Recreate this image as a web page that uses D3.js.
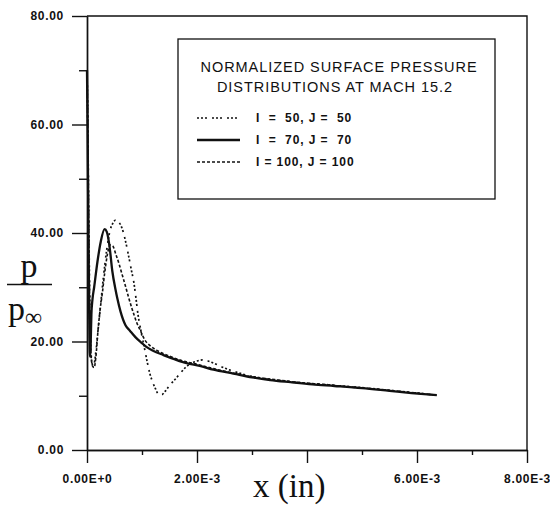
<!DOCTYPE html>
<html>
<head>
<meta charset="utf-8">
<script src="https://cdn.jsdelivr.net/npm/d3@7"></script>
<style>
  html, body { margin: 0; padding: 0; background: #fff; }
  svg { display: block; }
  .tick text { font-family: "Liberation Sans", Arial, Helvetica, sans-serif; font-weight: bold; font-size: 12px; letter-spacing: 0.7px; fill: #111; }
</style>
</head>
<body>
<svg id="chart" width="550" height="505"></svg>
<script>
// ---------------- DATA ----------------
// x in units of 1E-3 inch, y = p / p_inf
const seriesNames = ["I  =  50, J =  50", "I  =  70, J =  70", "I = 100, J = 100"];

const x_I50 = [0, 0.01, 0.02, 0.035, 0.05, 0.07, 0.09, 0.12, 0.16, 0.2, 0.25, 0.3, 0.36, 0.42, 0.47, 0.52, 0.58, 0.64, 0.7, 0.76, 0.81, 0.85, 0.89, 0.92, 0.98, 1.04, 1.1, 1.14, 1.18, 1.24, 1.3, 1.36, 1.42, 1.5, 1.6, 1.7, 1.8, 1.9, 2.0, 2.1, 2.2, 2.35, 2.5, 2.7, 2.9, 3.2, 3.6, 4.0, 4.5, 5.0, 5.5, 6.0, 6.36];
const y_I50 = [70, 64, 55, 40, 28, 19, 16, 15.5, 18, 22, 27, 32, 37, 40.5, 41.8, 42.4, 42, 40.8, 38.5, 35.6, 33, 31, 28, 25.5, 22, 19, 16, 14.2, 12.9, 11.4, 10.3, 10.2, 10.8, 11.9, 13, 14.2, 15.3, 16, 16.4, 16.6, 16.4, 15.8, 15.1, 14.4, 13.8, 13.2, 12.7, 12.3, 11.9, 11.5, 11.0, 10.5, 10.1];

const x_I70 = [0, 0.01, 0.02, 0.03, 0.04, 0.05, 0.058, 0.068, 0.08, 0.1, 0.13, 0.19, 0.25, 0.32, 0.36, 0.41, 0.46, 0.52, 0.55, 0.61, 0.7, 0.78, 0.88, 1.0, 1.08, 1.2, 1.39, 1.6, 1.81, 2.05, 2.3, 2.66, 3.0, 3.33, 3.7, 4.1, 4.5, 5.0, 5.5, 5.9, 6.36];
const y_I70 = [70, 60, 48, 36, 25, 18, 17.2, 20, 25, 27.8, 30, 34.7, 38.4, 40.7, 40.2, 37.5, 33, 29.5, 28, 25.5, 23, 22, 20.8, 19.7, 19, 18.3, 17.5, 16.7, 16, 15.5, 14.8, 14.1, 13.4, 12.9, 12.5, 12.1, 11.8, 11.4, 10.9, 10.5, 10.1];

const x_I100 = [0, 0.01, 0.02, 0.035, 0.05, 0.07, 0.1, 0.13, 0.16, 0.2, 0.24, 0.28, 0.32, 0.37, 0.42, 0.47, 0.52, 0.58, 0.64, 0.7, 0.76, 0.82, 0.9, 0.98, 1.05, 1.15, 1.3, 1.5, 1.75, 2.0, 2.3, 2.6, 3.0, 3.4, 3.8, 4.3, 4.8, 5.3, 5.8, 6.36];
const y_I100 = [70, 63, 53, 38, 25, 18, 15.5, 15.2, 17, 22, 26, 29, 32.5, 36, 37.8, 37.6, 36.2, 34.4, 32.3, 30.2, 28, 26, 23.6, 21.8, 20.3, 19.2, 18.2, 17.3, 16.4, 15.8, 15, 14.3, 13.5, 13, 12.5, 12.1, 11.6, 11.2, 10.7, 10.1];

const xMajorTicks = [0, 2, 4, 6, 8];
const xMajorLabels = ["0.00E+0", "2.00E-3", "", "6.00E-3", "8.00E-3"];
const xMinorTicks = [1, 3, 5, 7];
const yMajorTicks = [0, 20, 40, 60, 80];
const yMajorLabels = ["0.00", "20.00", "40.00", "60.00", "80.00"];
const yMinorTicks = [10, 30, 50, 70];

const legendTitle = ["NORMALIZED SURFACE PRESSURE", "DISTRIBUTIONS AT MACH 15.2"];

// ---------------- DRAW ----------------
const svg = d3.select("#chart");
const ink = "#111";
const x = d3.scaleLinear().domain([0, 8]).range([87, 527]);
const y = d3.scaleLinear().domain([0, 80]).range([450, 16]);

// frame (top & right)
svg.append("path")
  .attr("d", `M${x(0)},${y(80)}H${x(8)}V${y(0)}`)
  .attr("fill", "none").attr("stroke", ink).attr("stroke-width", 1.4);

// Y axis
const yAxMajor = d3.axisLeft(y).tickValues(yMajorTicks).tickSize(15).tickSizeOuter(0).tickPadding(8)
  .tickFormat((d, i) => yMajorLabels[i]);
const gy = svg.append("g").attr("transform", `translate(${x(0)},0)`).call(yAxMajor);
const yAxMinor = d3.axisLeft(y).tickValues(yMinorTicks).tickSize(8).tickSizeOuter(0).tickFormat("");
const gy2 = svg.append("g").attr("transform", `translate(${x(0)},0)`).call(yAxMinor);

// X axis
const xAxMajor = d3.axisBottom(x).tickValues(xMajorTicks).tickSize(13).tickSizeOuter(0).tickPadding(11)
  .tickFormat((d, i) => xMajorLabels[i]);
const gx = svg.append("g").attr("transform", `translate(0,${y(0)})`).call(xAxMajor);
const xAxMinor = d3.axisBottom(x).tickValues(xMinorTicks).tickSize(5).tickSizeOuter(0).tickFormat("");
const gx2 = svg.append("g").attr("transform", `translate(0,${y(0)})`).call(xAxMinor);

[gy, gy2, gx, gx2].forEach(g => {
  g.selectAll("path.domain").attr("stroke", ink).attr("stroke-width", 1.4);
  g.selectAll(".tick line").attr("stroke", ink).attr("stroke-width", 1.4);
});

// curves
const styles = [
  { dash: "2,2,2,2,2,5", width: 1.7 },
  { dash: null, width: 2.3 },
  { dash: "3,2", width: 1.6 }
];
const seriesData = [
  d3.zip(x_I50, y_I50),
  d3.zip(x_I70, y_I70),
  d3.zip(x_I100, y_I100)
];
const line = d3.line().x(d => x(d[0])).y(d => y(d[1])).curve(d3.curveMonotoneX);
seriesData.forEach((data, i) => {
  svg.append("path").datum(data)
    .attr("d", line)
    .attr("fill", "none")
    .attr("stroke", ink)
    .attr("stroke-width", styles[i].width)
    .attr("stroke-dasharray", styles[i].dash)
    .attr("stroke-linejoin", "round");
});

// legend
const lg = svg.append("g");
lg.append("rect").attr("x", 178).attr("y", 39).attr("width", 317).attr("height", 160)
  .attr("fill", "#fff").attr("stroke", ink).attr("stroke-width", 1.3);
lg.selectAll("text.title").data(legendTitle).enter().append("text")
  .attr("class", "title")
  .attr("x", (d, i) => i === 0 ? 339 : 335)
  .attr("y", (d, i) => 72 + i * 20)
  .attr("text-anchor", "middle")
  .style("font-family", '"Liberation Sans", Arial, Helvetica, sans-serif')
  .style("font-size", "14.5px")
  .style("letter-spacing", "0.95px")
  .attr("fill", ink)
  .text(d => d);
const rowY = [118, 140, 162];
seriesNames.forEach((name, i) => {
  lg.append("line").attr("x1", 197).attr("x2", 240).attr("y1", rowY[i]).attr("y2", rowY[i])
    .attr("stroke", ink).attr("stroke-width", styles[i].width).attr("stroke-dasharray", styles[i].dash);
  lg.append("text").attr("x", 256).attr("y", rowY[i] + 4.4)
    .style("font-family", '"Liberation Sans", Arial, Helvetica, sans-serif')
    .style("font-size", "12px").style("font-weight", "bold")
    .style("letter-spacing", "0.9px")
    .style("white-space", "pre")
    .attr("fill", ink)
    .text(name);
});

// axis titles
const serif = '"Liberation Serif", "Times New Roman", Times, serif';
svg.append("text").attr("x", 253).attr("y", 497)
  .style("font-family", serif).style("font-size", "33px").attr("fill", ink)
  .text("x (in)");

const yt = svg.append("g");
yt.append("text").attr("x", 29).attr("y", 277).attr("text-anchor", "middle")
  .style("font-family", serif).style("font-size", "34px").attr("fill", ink).text("p");
yt.append("line").attr("x1", 7).attr("x2", 52).attr("y1", 284.5).attr("y2", 284.5)
  .attr("stroke", ink).attr("stroke-width", 1.6);
const t2 = yt.append("text").attr("x", 8).attr("y", 320)
  .style("font-family", serif).style("font-size", "34px").attr("fill", ink);
t2.append("tspan").text("p");
t2.append("tspan").attr("dy", 5).style("font-size", "24px").text("∞");
</script>
</body>
</html>
